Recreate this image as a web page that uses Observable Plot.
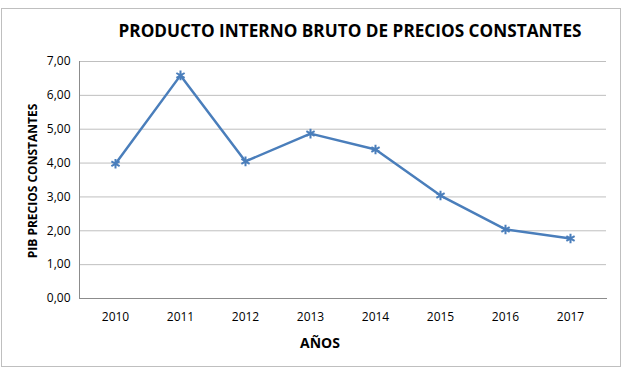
<!DOCTYPE html>
<html><head><meta charset="utf-8">
<script src="https://cdn.jsdelivr.net/npm/d3@7"></script>
<script src="https://cdn.jsdelivr.net/npm/@observablehq/plot@0.6"></script>
<style>body{margin:0;background:#fff}</style>
</head><body><div id="chart"></div>
<script>
const years = ["2010","2011","2012","2013","2014","2015","2016","2017"];
const pib = [3.98, 6.59, 4.05, 4.87, 4.40, 3.04, 2.04, 1.77];
const yTicks = [0,1,2,3,4,5,6,7];
const title = "PRODUCTO INTERNO BRUTO DE PRECIOS CONSTANTES";
const yLabel = "PIB PRECIOS CONSTANTES";
const xLabel = "AÑOS";
const data = years.map((y,i)=>({year:y, value:pib[i]}));
const fmt = d => d.toFixed(2).replace(".", ",");
const blue = "#4a7ebb";
const svg = Plot.plot({
  width:627, height:371,
  marginLeft:79, marginRight:21, marginTop:61, marginBottom:73,
  style:{fontFamily:"'Open Sans', sans-serif", fontSize:"12px", background:"white", color:"#000"},
  x:{type:"point", domain:years, padding:0.5},
  y:{domain:[0,7]},
  marks:[
    Plot.gridY(yTicks,{stroke:"#bfbfbf", strokeOpacity:1}),
    Plot.frame({anchor:"left", stroke:"#8c8c8c"}),
    Plot.frame({anchor:"bottom", stroke:"#8c8c8c"}),
    Plot.axisY(yTicks,{tickSize:0, tickPadding:9, tickFormat:fmt, label:null, fill:"#000"}),
    Plot.axisX({tickSize:0, tickPadding:14, label:null, fill:"#000"}),
    Plot.line(data,{x:"year", y:"value", stroke:blue, strokeWidth:2.5}),
    Plot.dot(data,{x:"year", y:"value", symbol:"asterisk", r:4.5, stroke:blue, strokeWidth:2}),
    Plot.text([title],{frameAnchor:"top", dy:-30, dx:7, lineAnchor:"middle", fontSize:17.2, fontWeight:"bold", fill:"#000"}),
    Plot.text([yLabel],{frameAnchor:"left", textAnchor:"middle", dx:-46, dy:1, rotate:-90, lineAnchor:"middle", fontSize:12, fontWeight:"bold", fill:"#000"}),
    Plot.text([xLabel],{frameAnchor:"bottom", dy:45, dx:-23, lineAnchor:"middle", fontSize:14, fontWeight:"bold", fill:"#000"})
  ]
});
d3.select(svg).insert("rect", ":first-child")
  .attr("x",1.5).attr("y",8.5).attr("width",619).attr("height",358)
  .attr("fill","white").attr("stroke","#bfbfbf");
document.getElementById("chart").appendChild(svg);
</script></body></html>
